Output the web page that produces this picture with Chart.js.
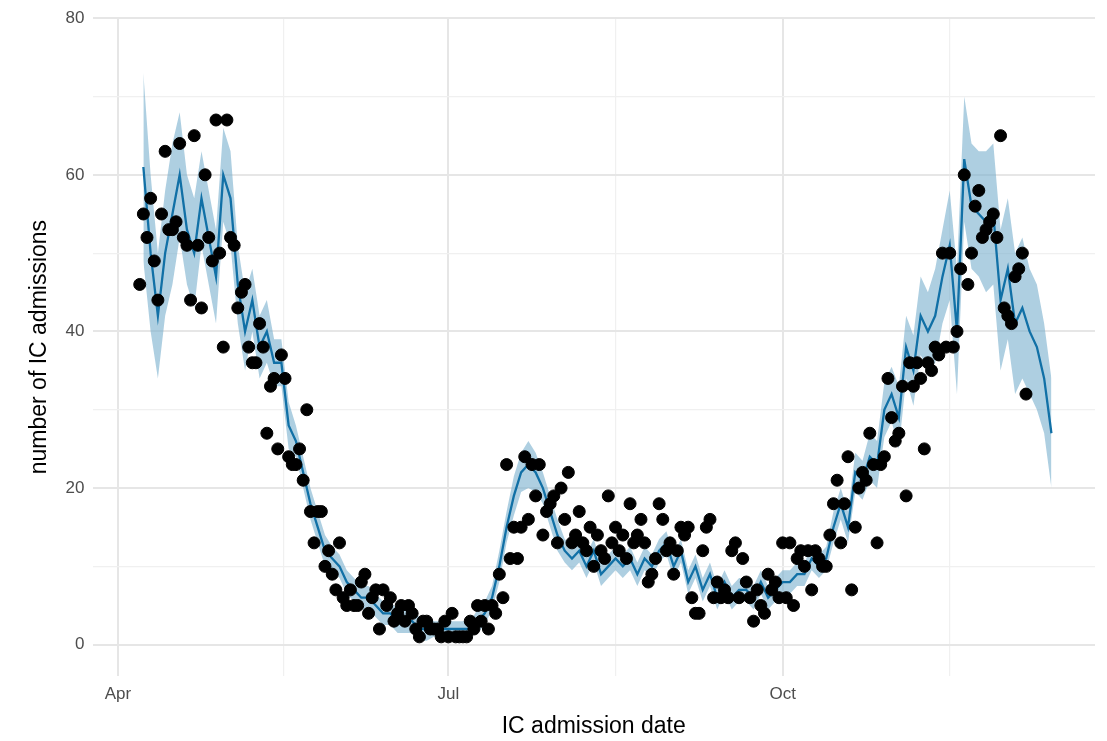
<!DOCTYPE html>
<html>
<head>
<meta charset="utf-8">
<script src="https://cdn.jsdelivr.net/npm/chart.js@4"></script>
<style>
  html, body { margin: 0; padding: 0; background: #fff; }
  #wrap { width: 1107px; height: 741px; }
</style>
</head>
<body>
<div id="wrap"><canvas id="icChart"></canvas></div>
<script>
// days counted from 1 April; tick labels at the quarter starts
const tickDays = [0, 91, 183];
const tickLabels = ["Apr", "Jul", "Oct"];
const gridDays = [0, 45.5, 91, 137, 183, 229];

// observed admissions, one per day starting at day 6
const firstObsDay = 6;
const observed = [
  46,55,52,57,49,44,55,63,53,53, 54,64,52,51,44,65,51,43,60,52,
  49,67,50,38,67,52,51,43,45,46, 38,36,36,41,38,27,33,34,25,37,
  34,24,23,23,25,21,30,17,13,17, 17,10,12,9,7,13,6,5,7,5,
  5,8,9,4,6,7,2,7,5,6, 3,4,5,3,5,4,2,1,3,3,
  2,2,2,1,3,1,4,1,1,1, 1,3,2,5,3,5,2,5,4,9,
  6,23,11,15,11,15,24,16,23,19, 23,14,17,18,19,13,20,16,22,13,
  14,17,13,12,15,10,14,12,11,19, 13,15,12,14,11,18,13,14,16,13,
  8,9,11,18,16,12,13,9,12,15, 14,15,6,4,4,12,15,16,6,8,
  6,7,6,12,13,6,11,8,6,3, 7,5,4,9,7,8,6,13,6,13,
  5,11,12,10,12,7,12,11,10,10, 14,18,21,13,18,24,7,15,20,22,
  21,27,23,13,23,24,34,29,26,27, 33,19,36,33,36,34,25,36,35,38,
  37,50,38,50,38,40,48,60,46,50, 56,58,52,53,54,55,52,65,43,42,
  41,47,48,50,32
];

// model fit, every second day from day 7
const firstFitDay = 7;
const fitted = [
  61,50,42,50,55,60,53,50,57,52, 47,60,57,46,40,44,38,40,36,36,
  28,26,22,18,15,12,11,10,8,7, 6,6,5,4,4,3,3,3,2,2,
  2,2,2,2,2,2,3,4,6,10, 15,19,22,23,22,20,17,14,12,11,
  12,10,12,9,10,11,10,11,9,11, 10,12,13,10,12,8,10,7,9,6,
  8,6,7,7,6,8,6,7,8,8, 9,9,11,10,11,15,18,15,22,21,
  24,23,30,32,29,38,35,42,40,42, 47,51,40,62,56,55,54,55,44,48,
  41,43,40,38,34,27
];
const fitHalfWidth = [
  12,10,8,8,9,8,7,7,6,6, 6,6,6,5,5,4,4,4,3,3,
  3,2,2,2,2,2,1.5,1.5,1.5,1.5, 1.5,1.5,1.5,1.5,1.5,1.5,1.5,1.5,1.5,1.5,
  1,1,1,1,1,1,1.5,1.5,1.5,2, 2,2.5,2.5,3,2.5,2,2,2,1.5,1.5,
  1.5,1.5,1.5,1.5,1.5,1.5,1.5,1.5,1.5,1.5, 1.5,1.5,1.5,1.5,1.5,1.5,1.5,1.5,1.5,1.5,
  1.5,1.5,1.5,1.5,1.5,1.5,1.5,1.5,1.5,1.5, 1.5,1.5,1.5,1.5,1.5,2,2,2,2.5,2.5,
  3,3,3.5,3.5,4,4,4.5,5,5,6, 6,7,8,8,8,8,9,9,9,9,
  9,9,8,8,7,7
];

const obsPoints = observed.map((v, i) => ({ x: firstObsDay + i, y: v }));
const fitPoints = fitted.map((v, i) => ({ x: firstFitDay + 2 * i, y: v }));
const upperPoints = fitted.map((v, i) => ({ x: firstFitDay + 2 * i, y: v + fitHalfWidth[i] }));
const lowerPoints = fitted.map((v, i) => ({ x: firstFitDay + 2 * i, y: v - fitHalfWidth[i] }));

const tickFont = { family: "Liberation Sans", size: 17 };
const titleFont = { family: "Liberation Sans", size: 23 };

new Chart(document.getElementById("icChart"), {
  type: "scatter",
  data: {
    datasets: [
      { type: "line", data: upperPoints, borderWidth: 0, pointRadius: 0,
        backgroundColor: "rgba(120,175,205,0.6)", fill: "+1", order: 3 },
      { type: "line", data: lowerPoints, borderWidth: 0, pointRadius: 0, fill: false, order: 3 },
      { type: "line", data: fitPoints, borderColor: "#1170a6", borderWidth: 2.3,
        pointRadius: 0, fill: false, order: 2 },
      { data: obsPoints, backgroundColor: "#000", borderColor: "#000",
        pointRadius: 6, order: 1 }
    ]
  },
  options: {
    responsive: true,
    maintainAspectRatio: false,
    animation: false,
    layout: { padding: { top: 18, right: 12, left: 22, bottom: 0 } },
    plugins: { legend: { display: false }, tooltip: { enabled: false } },
    scales: {
      x: {
        type: "linear", min: -7, max: 269,
        afterBuildTicks: (axis) => { axis.ticks = gridDays.map(v => ({ value: v })); },
        ticks: {
          color: "#4d4d4d", font: tickFont, maxRotation: 0, autoSkip: false, padding: 8,
          callback: (v) => { const k = tickDays.indexOf(v); return k >= 0 ? tickLabels[k] : ""; }
        },
        grid: { color: (c) => tickDays.includes(c.tick.value) ? "#e6e6e6" : "#f0f0f0",
                lineWidth: (c) => tickDays.includes(c.tick.value) ? 2 : 1.2, drawTicks: false },
        border: { display: false },
        title: { display: true, text: "IC admission date", color: "#000", font: titleFont, padding: { top: 0, bottom: 1 } }
      },
      y: {
        min: -4, max: 80,
        afterBuildTicks: (axis) => { axis.ticks = [0,10,20,30,40,50,60,70,80].map(v => ({ value: v })); },
        ticks: {
          color: "#4d4d4d", font: tickFont, padding: 8, autoSkip: false,
          callback: (v) => v % 20 === 0 ? v : ""
        },
        grid: { color: (c) => c.tick.value % 20 === 0 ? "#e6e6e6" : "#f0f0f0",
                lineWidth: (c) => c.tick.value % 20 === 0 ? 2 : 1.2, drawTicks: false },
        border: { display: false },
        title: { display: true, text: "number of IC admissions", color: "#000", font: titleFont }
      }
    }
  }
});
</script>
</body>
</html>
